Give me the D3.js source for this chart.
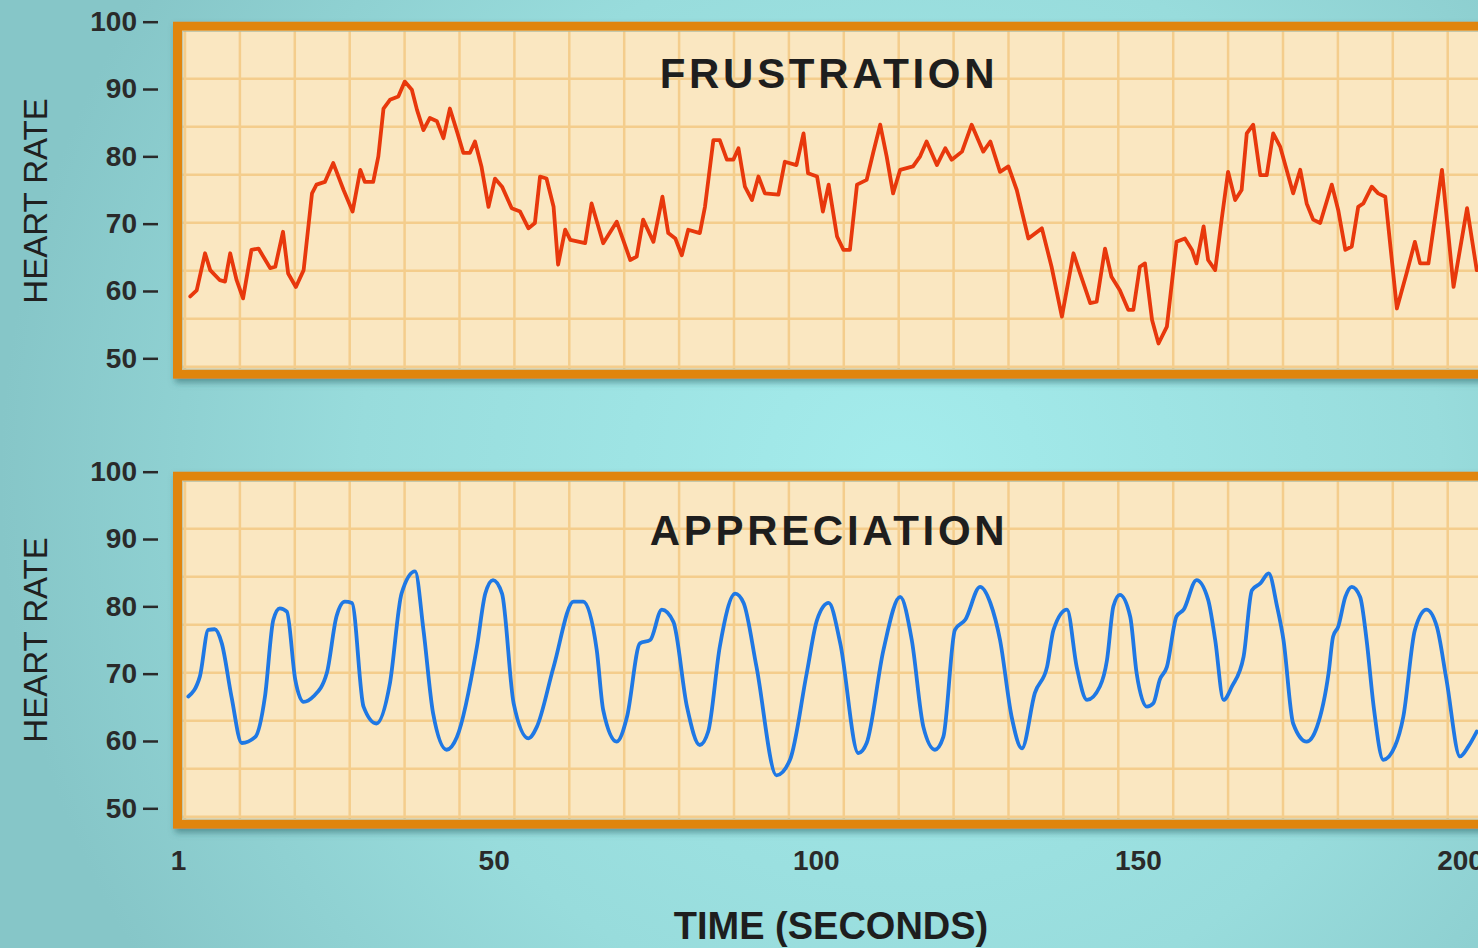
<!DOCTYPE html>
<html>
<head>
<meta charset="utf-8">
<script src="https://cdn.jsdelivr.net/npm/d3@7"></script>
<style>
  html, body { margin: 0; padding: 0; overflow: hidden; }
  svg { display: block; font-family: "Liberation Sans", Arial, sans-serif; }
</style>
</head>
<body>
<div id="chart"></div>
<script>
// heart rate readings, time in seconds
const frustrationTime = [2.9, 3.9, 5.2, 6.0, 7.5, 8.3, 9.1, 10.1, 11.1, 12.4, 13.5, 15.3, 16.1, 17.3, 18.1, 19.3, 20.5, 21.8, 22.5, 23.8,
  25.1, 26.7, 28.1, 29.3, 30.0, 31.3, 32.1, 32.9, 33.9, 35.2, 36.2, 37.3, 38.1, 39.1, 40.1, 41.2, 42.2, 43.2, 44.3, 45.3,
  46.3, 47.1, 48.1, 49.2, 50.2, 51.3, 52.8, 54.1, 55.4, 56.4, 57.2, 58.2, 59.3, 60.0, 61.1, 61.9, 64.2, 65.2, 67.0, 69.1,
  71.2, 72.2, 73.2, 74.8, 76.2, 77.1, 78.2, 79.2, 80.2, 82.0, 82.8, 84.1, 85.1, 86.2, 87.2, 88.0, 89.0, 90.1, 91.1, 92.1,
  94.2, 95.2, 97.0, 98.1, 98.8, 100.2, 101.1, 102.0, 103.3, 104.3, 105.3, 106.4, 107.9, 108.9, 110.0, 111.0, 112.0, 113.1, 115.1, 116.2,
  117.2, 118.8, 120.1, 121.1, 122.7, 124.2, 126.0, 127.1, 128.6, 129.9, 131.2, 133.0, 135.1, 136.6, 138.2, 140.0, 141.0, 142.6, 143.6, 144.9,
  145.9, 147.2, 148.5, 149.3, 150.3, 151.1, 152.2, 153.2, 154.5, 156.0, 157.3, 158.4, 159.1, 160.2, 160.9, 162.0, 163.0, 164.0, 165.1, 166.1,
  166.9, 167.9, 169.0, 170.0, 171.0, 172.1, 174.1, 175.2, 176.2, 177.2, 178.3, 180.1, 181.1, 182.2, 183.2, 184.2, 185.0, 186.3, 187.3, 188.4,
  190.2, 191.7, 193.0, 193.8, 195.1, 197.2, 199.0, 201.1, 202.6];
const frustrationRate = [59.2, 60.1, 65.6, 63.1, 61.6, 61.4, 65.6, 61.6, 58.9, 66.1, 66.3, 63.4, 63.6, 68.8, 62.6, 60.6, 63.1, 74.5, 75.8, 76.2,
  79.0, 75.0, 71.8, 78.0, 76.2, 76.2, 80.0, 87.1, 88.4, 88.9, 91.1, 89.9, 86.9, 83.9, 85.7, 85.2, 82.7, 87.1, 83.7, 80.5,
  80.5, 82.2, 78.5, 72.5, 76.7, 75.5, 72.3, 71.8, 69.3, 70.1, 77.0, 76.7, 72.5, 63.9, 69.1, 67.6, 67.1, 73.0, 67.1, 70.3,
  64.6, 65.1, 70.6, 67.3, 74.0, 68.6, 67.8, 65.3, 69.1, 68.6, 72.5, 82.4, 82.4, 79.5, 79.5, 81.2, 75.5, 73.5, 77.0, 74.5,
  74.3, 79.2, 78.7, 83.4, 77.5, 77.0, 71.8, 75.8, 68.1, 66.1, 66.1, 75.8, 76.5, 80.5, 84.7, 80.0, 74.5, 78.0, 78.5, 80.0,
  82.2, 78.7, 81.2, 79.5, 80.7, 84.7, 80.7, 82.2, 77.7, 78.5, 75.0, 67.8, 69.3, 63.6, 56.2, 65.6, 62.7, 58.2, 58.4, 66.3,
  62.1, 60.1, 57.2, 57.2, 63.6, 64.1, 55.7, 52.2, 54.7, 67.3, 67.8, 66.1, 64.1, 69.6, 64.6, 63.1, 70.6, 77.7, 73.5, 75.0,
  83.4, 84.7, 77.2, 77.2, 83.4, 81.4, 74.5, 78.0, 73.0, 70.6, 70.1, 75.8, 72.0, 66.1, 66.6, 72.5, 73.0, 75.5, 74.5, 74.0,
  57.4, 62.6, 67.3, 64.1, 64.1, 78.0, 60.6, 72.3, 63.1];

const appreciationTime = [2.6, 4.4, 5.7, 6.7, 7.8, 9.3, 10.9, 13.0, 14.5, 15.8, 16.8, 17.9, 19.2, 20.5, 22.0, 24.1, 25.6, 26.9, 28.0, 29.8,
  31.8, 33.9, 35.7, 37.8, 39.1, 40.6, 42.7, 44.3, 47.4, 48.7, 49.9, 51.3, 53.1, 55.4, 56.7, 59.3, 62.4, 63.9, 66.0, 67.0,
  69.1, 70.7, 72.7, 74.3, 76.1, 77.9, 80.0, 82.0, 83.3, 85.1, 87.5, 88.8, 90.8, 93.9, 96.0, 98.6, 100.2, 102.0, 103.8, 106.6,
  107.9, 110.5, 113.1, 114.9, 116.7, 118.5, 119.8, 121.6, 123.2, 125.5, 127.1, 128.6, 130.4, 132.0, 134.0, 135.9, 136.9, 139.0, 140.5, 142.1,
  144.1, 145.2, 146.2, 147.2, 148.8, 149.8, 151.4, 152.4, 153.4, 154.5, 156.0, 157.1, 159.1, 160.9, 162.0, 163.3, 164.6, 166.4, 167.7, 169.0,
  170.3, 171.6, 172.6, 174.1, 176.2, 177.8, 179.6, 180.3, 181.1, 182.2, 183.2, 184.5, 185.5, 186.6, 188.1, 189.9, 191.2, 193.0, 194.8, 196.4,
  197.9, 200.0, 201.3, 202.6];
const appreciationRate = [66.6, 69.6, 76.5, 76.6, 74.5, 66.6, 59.7, 60.6, 66.6, 78.0, 79.7, 79.2, 69.1, 65.8, 66.6, 70.1, 78.5, 80.7, 80.5, 65.1,
  62.6, 68.6, 81.9, 85.2, 76.5, 64.1, 58.7, 60.6, 74.0, 81.9, 83.9, 81.9, 65.6, 60.4, 62.1, 71.0, 80.7, 80.7, 73.5, 64.6,
  59.9, 63.6, 74.5, 75.0, 79.5, 77.7, 65.1, 59.4, 61.4, 74.0, 81.9, 80.5, 71.0, 54.9, 57.2, 70.1, 78.0, 80.5, 74.5, 58.2,
  59.7, 73.5, 81.4, 75.0, 62.1, 58.7, 60.6, 76.5, 78.0, 82.9, 80.5, 75.0, 63.6, 58.9, 67.1, 71.0, 76.5, 79.5, 71.0, 66.1,
  68.1, 72.0, 80.0, 81.7, 78.5, 70.1, 65.1, 65.6, 69.1, 71.0, 78.5, 79.5, 83.9, 81.0, 75.0, 66.1, 68.1, 72.5, 82.4, 83.4,
  84.9, 80.0, 75.0, 62.6, 59.9, 62.1, 70.1, 75.5, 77.0, 81.4, 82.9, 81.4, 75.0, 65.1, 57.2, 59.2, 63.6, 76.5, 79.5, 77.0,
  69.1, 57.7, 59.2, 61.4];

const rateTicks = [50, 60, 70, 80, 90, 100];
const timeTicks = [1, 50, 100, 150, 200];
const panelTitles = ["FRUSTRATION", "APPRECIATION"];

const width = 1478, height = 948;
const svg = d3.select("#chart").append("svg")
  .attr("width", width)
  .attr("height", height);

const defs = svg.append("defs");
const bg = defs.append("radialGradient")
  .attr("id", "bg")
  .attr("gradientUnits", "userSpaceOnUse")
  .attr("cx", 900).attr("cy", 480).attr("r", 900);
bg.append("stop").attr("offset", "0%").attr("stop-color", "#a4ecec");
bg.append("stop").attr("offset", "60%").attr("stop-color", "#98dcdc");
bg.append("stop").attr("offset", "100%").attr("stop-color", "#86c6c8");

const shadow = defs.append("filter").attr("id", "shadow")
  .attr("x", "-5%").attr("y", "-5%").attr("width", "110%").attr("height", "115%");
shadow.append("feDropShadow")
  .attr("dx", 2).attr("dy", 4).attr("stdDeviation", 3)
  .attr("flood-color", "#2a6468").attr("flood-opacity", 0.55);

svg.append("rect").attr("width", width).attr("height", height).attr("fill", "url(#bg)");

const x = d3.scaleLinear().domain([1, 200]).range([178, 1460]);

const panels = [
  { title: panelTitles[0], time: frustrationTime, rate: frustrationRate, top: 21.7, color: "#e8380c",
    curve: d3.curveLinear, titleY: 88, labelY: 201 },
  { title: panelTitles[1], time: appreciationTime, rate: appreciationRate, top: 471.7, color: "#1f78e4",
    curve: d3.curveMonotoneX, titleY: 545, labelY: 640 }
];

const panelLeft = 173, panelRight = 1510, panelH = 357, border = 9;
const cellW = 54.9, cellH = 48;

panels.forEach((p, i) => {
  const y = d3.scaleLinear().domain([50, 100]).range([p.top + 336.6, p.top]);
  const top = y(100);
  const g = svg.append("g");

  // box with shadow
  const box = g.append("g").attr("filter", "url(#shadow)");
  box.append("rect")
    .attr("x", panelLeft + border / 2)
    .attr("y", top + border / 2)
    .attr("width", panelRight - panelLeft)
    .attr("height", panelH - border)
    .attr("fill", "#fae7c1")
    .attr("stroke", "#e0850f")
    .attr("stroke-width", border);

  const innerX = panelLeft + border, innerY = top + border;
  const innerH = panelH - 2 * border;

  const clipId = "clip" + i;
  defs.append("clipPath").attr("id", clipId)
    .append("rect")
    .attr("x", innerX).attr("y", innerY)
    .attr("width", panelRight - innerX).attr("height", innerH);

  const inner = g.append("g").attr("clip-path", `url(#${clipId})`);

  // grid
  const gridX = d3.range(innerX + 3, width + cellW, cellW);
  const gridY = d3.range(innerY + cellH, innerY + innerH, cellH);
  inner.selectAll(".gx").data(gridX).join("line")
    .attr("x1", d => d).attr("x2", d => d)
    .attr("y1", innerY).attr("y2", innerY + innerH)
    .attr("stroke", "#f4cd8c").attr("stroke-width", 2.5);
  inner.selectAll(".gy").data(gridY).join("line")
    .attr("x1", innerX).attr("x2", width)
    .attr("y1", d => d).attr("y2", d => d)
    .attr("stroke", "#f4cd8c").attr("stroke-width", 2.5);

  // faint inner edge
  inner.append("rect")
    .attr("x", innerX + 0.5).attr("y", innerY + 0.5)
    .attr("width", panelRight - innerX).attr("height", innerH - 1)
    .attr("fill", "none")
    .attr("stroke", "#a9b8a0").attr("stroke-width", 1.5).attr("opacity", 0.7);

  const line = d3.line()
    .x((d, j) => x(p.time[j]))
    .y(d => y(d))
    .curve(p.curve);

  inner.append("path")
    .datum(p.rate)
    .attr("d", line)
    .attr("fill", "none")
    .attr("stroke", p.color)
    .attr("stroke-width", 3.8)
    .attr("stroke-linejoin", "round")
    .attr("stroke-linecap", "round");

  g.append("text")
    .attr("x", 829)
    .attr("y", p.titleY)
    .attr("text-anchor", "middle")
    .attr("font-size", "42px")
    .attr("font-weight", "bold")
    .attr("letter-spacing", "3.7px")
    .attr("fill", "#1e1e1e")
    .text(p.title);

  // y axis
  const yAxis = d3.axisLeft(y).tickValues(rateTicks).tickSize(15).tickPadding(6);
  const ax = g.append("g")
    .attr("transform", "translate(158,0)")
    .call(yAxis);
  ax.select(".domain").remove();
  ax.selectAll(".tick line").attr("stroke", "#2a2a2a").attr("stroke-width", 2.5);
  ax.selectAll(".tick text")
    .attr("fill", "#2a2a2a")
    .attr("font-size", "28px")
    .attr("font-weight", "bold")
    .attr("font-family", "Liberation Sans, Arial, sans-serif");

  g.append("text")
    .attr("transform", `translate(47,${p.labelY}) rotate(-90)`)
    .attr("text-anchor", "middle")
    .attr("font-size", "33px")
    .attr("fill", "#202020")
    .text("HEART RATE");
});

// time axis
const xAxis = d3.axisBottom(x).tickValues(timeTicks).tickSize(0).tickPadding(8).tickFormat(d3.format("d"));
const xa = svg.append("g")
  .attr("transform", "translate(0,842)")
  .call(xAxis);
xa.select(".domain").remove();
xa.selectAll(".tick text")
  .attr("fill", "#2a2a2a")
  .attr("font-size", "28px")
  .attr("font-weight", "bold")
  .attr("font-family", "Liberation Sans, Arial, sans-serif");

svg.append("text")
  .attr("x", 831)
  .attr("y", 939)
  .attr("text-anchor", "middle")
  .attr("font-size", "38px")
  .attr("font-weight", "bold")
  .attr("fill", "#1e1e1e")
  .text("TIME (SECONDS)");
</script>
</body>
</html>
